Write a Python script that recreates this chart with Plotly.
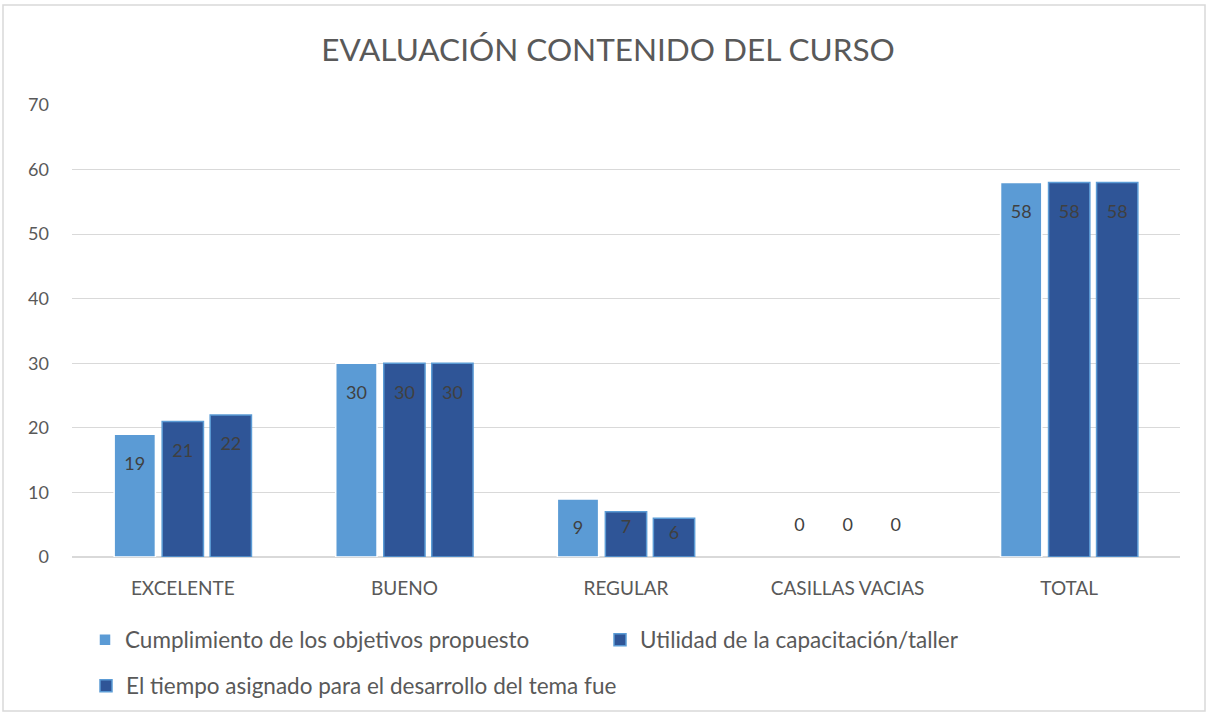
import plotly.graph_objects as go

categories = ["EXCELENTE", "BUENO", "REGULAR", "CASILLAS VACIAS", "TOTAL"]
series_names = [
    "Cumplimiento de los objetivos propuesto",
    "Utilidad de la capacitación/taller",
    "El tiempo asignado para el desarrollo del tema fue",
]
cumplimiento = [19, 30, 9, 0, 58]
utilidad = [21, 30, 7, 0, 58]
tiempo = [22, 30, 6, 0, 58]
y_ticks = [0, 10, 20, 30, 40, 50, 60, 70]

FONT = "Lato"
fills = ["#5B9BD5", "#2F5597", "#2F5597"]
borders = ["#FFFFFF", "#5B9BD5", "#5B9BD5"]
legends = ["legend", "legend", "legend2"]

W, H = 1209, 714
ml, mr, mt, mb = 72, 29, 105, 157
pw, ph = W - ml - mr, H - mt - mb


def px_x(x):
    return (x - ml) / pw


def px_y(y):
    return (H - mb - y) / ph


SMALL = "<span style='font-size:9px'>\u00a0</span>"


def label(v):
    if v == 0:
        return "0<br><span style='font-size:1px'>\u00a0</span>"
    if v >= 8:
        return SMALL + "<br>" + str(v)
    return str(v)


fig = go.Figure()
for name, vals, fc, bc, lg in zip(series_names, [cumplimiento, utilidad, tiempo], fills, borders, legends):
    fig.add_trace(go.Bar(
        x=categories, y=vals, name=name, legend=lg,
        marker=dict(color=fc, line=dict(color=bc, width=[0 if v == 0 else 1.5 for v in vals])),
        text=[label(v) for v in vals],
        textposition=["inside" if v > 0 else "outside" for v in vals],
        insidetextanchor="end",
        textangle=0,
        constraintext="none",
        textfont=dict(family=FONT, size=18, color="#404040"),
        cliponaxis=False,
    ))

leg_font = dict(family=FONT, size=22.5, color="#595959")

fig.update_layout(
    width=W, height=H,
    margin=dict(l=ml, r=mr, t=mt, b=mb, autoexpand=False),
    paper_bgcolor="white", plot_bgcolor="white",
    barmode="group", bargap=0.35, bargroupgap=0.14,
    title=dict(text="EVALUACIÓN CONTENIDO DEL CURSO", x=px_x(608), xanchor="center",
               xref="paper", y=1 - 50 / H, yanchor="middle",
               font=dict(family=FONT, size=31.5, color="#595959")),
    font=dict(family=FONT, size=18, color="#595959"),
    showlegend=True,
    legend=dict(orientation="h", xanchor="left", yanchor="middle", bgcolor="rgba(0,0,0,0)",
                x=px_x(85), y=px_y(640), font=leg_font, traceorder="normal",
                entrywidth=470, entrywidthmode="pixels"),
    legend2=dict(orientation="h", xanchor="left", yanchor="middle", bgcolor="rgba(0,0,0,0)",
                 x=px_x(86), y=px_y(686), font=leg_font, traceorder="normal"),
    xaxis=dict(showgrid=False, showline=True, linecolor="#D9D9D9", linewidth=1,
               tickfont=dict(family=FONT, size=19, color="#595959"), ticks="",
               ticklabelstandoff=14),
    yaxis=dict(range=[0, 70], tickvals=y_ticks, showgrid=True, gridcolor="#D9D9D9",
               gridwidth=1, zeroline=True, zerolinecolor="#D9D9D9", showline=False,
               tickfont=dict(family=FONT, size=18, color="#595959"), ticks="",
               ticklabelstandoff=22),
    shapes=[dict(type="rect", xref="paper", yref="paper",
                 x0=px_x(3), x1=px_x(1205), y0=px_y(711), y1=px_y(5),
                 line=dict(color="#D9D9D9", width=1.5), fillcolor="rgba(0,0,0,0)",
                 layer="below")],
)

fig.write_html("out.html",
               config={"displayModeBar": False},
               post_script="document.body.style.margin='0';document.body.style.overflow='hidden';")
